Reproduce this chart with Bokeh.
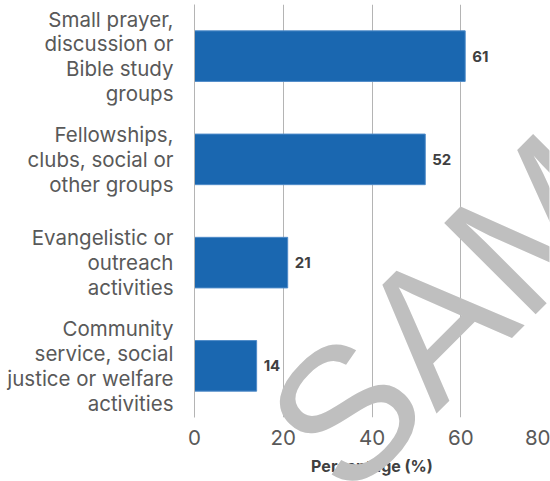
from bokeh.plotting import figure
from bokeh.layouts import column
from bokeh.models import ColumnDataSource, FactorRange, Range1d, FixedTicker, Label
from bokeh.embed import file_html
from bokeh.resources import INLINE
from bokeh.core.properties import value

# ---- data ----
categories = [
    "Small prayer,\ndiscussion or\nBible study\ngroups",
    "Fellowships,\nclubs, social or\nother groups",
    "Evangelistic or\noutreach\nactivities",
    "Community\nservice, social\njustice or welfare\nactivities",
]
values = [61, 52, 21, 14]
x_ticks = [0, 20, 40, 60, 80]
x_title = "Percentage (%)"
watermark_text = "SAMPLE"

FONT = "Inter"
W, H = 550, 481
LEFT, RIGHT = 194, 1

src = ColumnDataSource(dict(cat=categories, val=values, lab=[str(v) for v in values]))

p = figure(
    width=W, height=H,
    y_range=FactorRange(factors=list(reversed(categories))),
    x_range=Range1d(0, 80),
    output_backend="svg", toolbar_location=None,
    min_border_left=LEFT, min_border_right=RIGHT, min_border_top=4, min_border_bottom=64,
)
p.outline_line_color = None
p.background_fill_color = "white"
p.border_fill_color = "white"

p.hbar(y="cat", right="val", left=0, height=0.49, source=src,
       fill_color="#1A67B0", line_color="#4F8BC8", line_width=1)

p.text(x="val", y="cat", text="lab", source=src, x_offset=7,
       text_align="left", text_baseline="middle",
       text_font=value(FONT), text_font_size="15px", text_font_style="bold",
       text_color="#404040")

# grid
p.ygrid.grid_line_color = None
p.xgrid.ticker = FixedTicker(ticks=x_ticks)
p.xgrid.grid_line_color = "#B4B4B4"
p.xgrid.grid_line_width = 1

# x axis
p.xaxis.ticker = FixedTicker(ticks=x_ticks)
p.xaxis.axis_line_color = None
p.xaxis.major_tick_line_color = None
p.xaxis.minor_tick_line_color = None
p.xaxis.major_tick_out = 0
p.xaxis.major_label_standoff = 12
p.xaxis.major_label_text_font = FONT
p.xaxis.major_label_text_font_size = "20.5px"
p.xaxis.major_label_text_color = "#595959"
p.xaxis.axis_label = x_title
p.xaxis.axis_label_text_font = FONT
p.xaxis.axis_label_text_font_size = "16px"
p.xaxis.axis_label_text_font_style = "bold"
p.xaxis.axis_label_text_color = "#404040"
p.xaxis.axis_label_standoff = 8

# y axis
p.yaxis.axis_line_color = "#B4B4B4"
p.yaxis.major_tick_line_color = None
p.yaxis.minor_tick_line_color = None
p.yaxis.major_tick_out = 0
p.yaxis.major_label_standoff = 21
p.yaxis.major_label_text_font = FONT
p.yaxis.major_label_text_font_size = "20.5px"
p.yaxis.major_label_text_color = "#595959"
p.yaxis.major_label_text_line_height = 0.99

# ---- watermark: transparent overlay figure laid over the chart ----
# its frame lines up with the chart frame horizontally and spans the full height;
# ranges are set so that one unit = one page pixel (y downwards)
wmfig = figure(
    width=W, height=H,
    x_range=Range1d(LEFT, W - RIGHT), y_range=Range1d(H, 0),
    output_backend="svg", toolbar_location=None,
    x_axis_location=None, y_axis_location=None,
    min_border_left=LEFT, min_border_right=RIGHT, min_border_top=0, min_border_bottom=0,
    margin=(-H, 0, 0, 0),
)
wmfig.grid.visible = False
wmfig.outline_line_color = None
wmfig.background_fill_alpha = 0
wmfig.border_fill_alpha = 0
wm = Label(x=301, y=456, text=watermark_text,
           angle=0.785398, text_align="left", text_baseline="alphabetic",
           text_font="Liberation Sans", text_font_size="188px",
           text_color="#BFBFBF")
wmfig.add_layout(wm)

layout = column(p, wmfig, spacing=0)
open("out.html", "w").write(file_html(layout, INLINE))
